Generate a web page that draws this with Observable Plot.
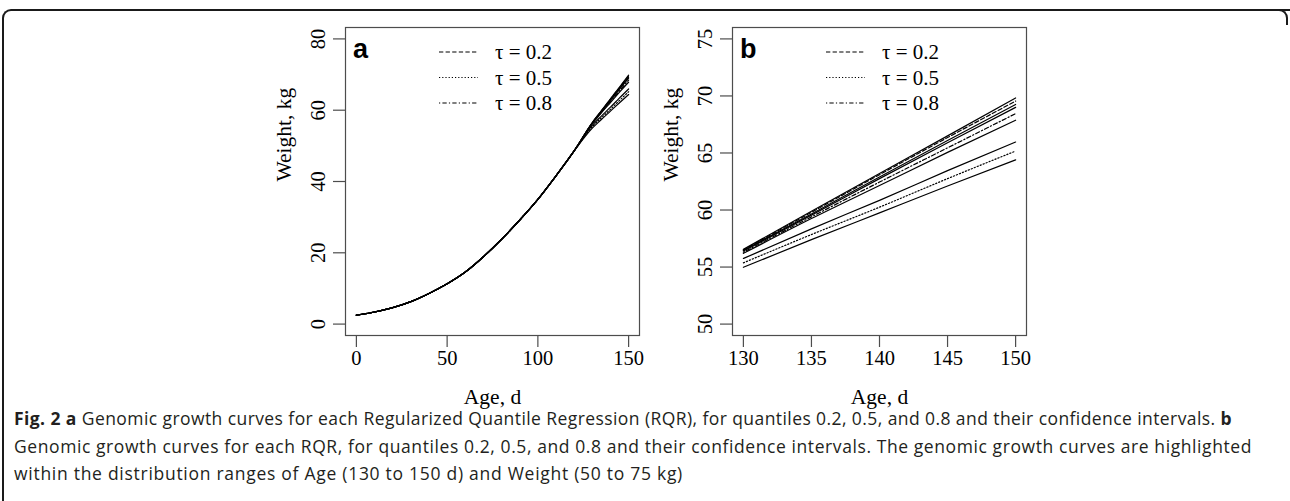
<!DOCTYPE html>
<html>
<head>
<meta charset="utf-8">
<script src="https://cdn.jsdelivr.net/npm/d3@7"></script>
<script src="https://cdn.jsdelivr.net/npm/@observablehq/plot@0.6"></script>
<style>
  html, body { margin: 0; padding: 0; background: #fff; }
  #wrap { position: relative; width: 1290px; height: 501px; overflow: hidden; background: #fff; }
  #borderL { position: absolute; left: 2px; top: 9px; width: 1400px; height: 600px;
             border-top: 2px solid #1a1a1a; border-left: 2px solid #1a1a1a; border-top-left-radius: 9px; }
  #borderR { position: absolute; left: 1200px; top: 9px; width: 86px; height: 14px;
             border-top: 2px solid #1a1a1a; border-right: 2px solid #1a1a1a; border-top-right-radius: 9px; }
  .chart { position: absolute; top: 0; }
  #cap { position: absolute; left: 14px; top: 405px; font-family: "Open Sans", sans-serif;
         font-size: 17.5px; line-height: 27.5px; color: #231f20; white-space: nowrap; }
  #cap b { font-weight: 700; }
  #cap span { display: inline-block; }
</style>
</head>
<body>
<div id="wrap">
  <div id="borderL"></div>
  <div id="borderR"></div>
  <div id="chartA" class="chart" style="left:250px"></div>
  <div id="chartB" class="chart" style="left:640px"></div>
  <div id="cap">
    <div><span data-w="1218"><b>Fig. 2 a</b> Genomic growth curves for each Regularized Quantile Regression (RQR), for quantiles 0.2, 0.5, and 0.8 and their confidence intervals. <b>b</b></span></div>
    <div><span data-w="1238">Genomic growth curves for each RQR, for quantiles 0.2, 0.5, and 0.8 and their confidence intervals. The genomic growth curves are highlighted</span></div>
    <div><span data-w="669">within the distribution ranges of Age (130 to 150 d) and Weight (50 to 75 kg)</span></div>
  </div>
</div>
<script>
// ---------------- data ----------------
const ageEarly = [0, 10, 20, 30, 40, 50, 60, 70, 80, 90, 100, 110, 120];
const weightEarly = [2.5, 3.4, 4.6, 6.3, 8.6, 11.3, 14.6, 18.9, 23.8, 29.2, 35.0, 41.6, 48.6];
const ageLate = [130, 135, 140, 145, 150];

// quantile 0.2 (estimate + confidence limits)
const q02Upper = [56.55, 59.9, 63.2, 66.5, 69.82];
const q02Est   = [56.5, 59.8, 63.1, 66.35, 69.55];
const q02Lower = [56.45, 59.65, 62.9, 66.1, 69.25];
// quantile 0.8
const q08Upper = [56.4, 59.55, 62.75, 65.9, 69.0];
const q08Est   = [56.3, 59.4, 62.45, 65.45, 68.45];
const q08Lower = [56.2, 59.25, 62.15, 65.05, 67.87];
// quantile 0.5
const q05Upper = [55.75, 58.35, 60.85, 63.45, 65.96];
const q05Est   = [55.37, 57.85, 60.25, 62.75, 65.17];
const q05Lower = [54.98, 57.4, 59.75, 62.1, 64.4];

const quantiles = ["0.2", "0.5", "0.8"];
const legendLabels = ["τ = 0.2", "τ = 0.5", "τ = 0.8"];

const xTicksA = [0, 50, 100, 150];
const yTicksA = [0, 20, 40, 60, 80];
const xTicksB = [130, 135, 140, 145, 150];
const yTicksB = [50, 55, 60, 65, 70, 75];

const xTitle = "Age, d";
const yTitle = "Weight, kg";
const panelLetters = ["a", "b"];

const curves = [
  {q: "0.2", role: "upper", late: q02Upper},
  {q: "0.2", role: "estimate", late: q02Est},
  {q: "0.2", role: "lower", late: q02Lower},
  {q: "0.8", role: "upper", late: q08Upper},
  {q: "0.8", role: "estimate", late: q08Est},
  {q: "0.8", role: "lower", late: q08Lower},
  {q: "0.5", role: "upper", late: q05Upper},
  {q: "0.5", role: "estimate", late: q05Est},
  {q: "0.5", role: "lower", late: q05Lower}
];

function rowsFor(includeEarly) {
  const rows = [];
  curves.forEach(c => {
    const id = c.q + "-" + c.role;
    if (includeEarly) ageEarly.forEach((a, i) => rows.push({id, q: c.q, role: c.role, age: a, weight: weightEarly[i]}));
    ageLate.forEach((a, i) => rows.push({id, q: c.q, role: c.role, age: a, weight: c.late[i]}));
  });
  return rows;
}
const rowsA = rowsFor(true);
const rowsB = rowsFor(false);

// ---------------- styling ----------------
const dash = {"0.2": "4.3,2.3", "0.5": "1.2,2.0", "0.8": "1.2,2.2,4.3,2.2"};
const styleOf = d => d.role === "estimate" ? d.q : "solid";
const boxColor = "#4d4d4d";
const serif = "'Liberation Serif', 'Times New Roman', serif";

function lineMarks(rows) {
  const kinds = ["solid", "0.2", "0.5", "0.8"];
  return kinds.map(k => Plot.line(rows.filter(d => styleOf(d) === k), {
    x: "age", y: "weight", z: "id", stroke: "#000", strokeWidth: 1.2,
    strokeDasharray: k === "solid" ? null : dash[k], curve: "monotone-x"
  }));
}

function makePanel({rows, xDomain, yDomain, xTicks, yTicks, marginLeft, marginRight, letter}) {
  const W = 420, H = 410, mt = 27, mb = 75;
  const chart = Plot.plot({
    width: W, height: H,
    marginLeft, marginRight, marginTop: mt, marginBottom: mb,
    x: {domain: xDomain}, y: {domain: yDomain},
    style: {fontFamily: serif, fontSize: "20.5px", color: "#000", background: "transparent", overflow: "visible"},
    marks: [
      ...lineMarks(rows),
      Plot.frame({stroke: boxColor, strokeWidth: 1.2}),
      Plot.axisX(xTicks, {tickSize: 12, tickPadding: 3, stroke: boxColor, strokeWidth: 1.2, fontSize: 20.5, label: null}),
      Plot.axisY(yTicks, {tickSize: 12, tickPadding: 9, tickRotate: -90, stroke: boxColor, strokeWidth: 1.2, fontSize: 20.5, label: null}),
      Plot.text([xTitle], {frameAnchor: "bottom", dy: 68, text: d => d, fontSize: 21.5}),
      Plot.text([yTitle], {frameAnchor: "left", dx: -61, rotate: -90, text: d => d, fontSize: 21.5})
    ]
  });
  // legend + panel letter (non-data decorations, relative to the frame)
  const svg = d3.select(chart);
  const g = svg.append("g").attr("transform", `translate(${marginLeft},${mt})`).attr("text-anchor", "start");
  g.append("text").text(letter).attr("x", 8).attr("y", 31)
    .attr("font-family", "'Liberation Sans', Arial, sans-serif").attr("font-weight", "bold")
    .attr("font-size", 27).attr("fill", "#000");
  quantiles.forEach((q, i) => {
    const y = 25 + i * 25.5;
    g.append("line").attr("x1", 94).attr("x2", 133).attr("y1", y).attr("y2", y)
      .attr("stroke", "#000").attr("stroke-width", 1.2).attr("stroke-dasharray", dash[q]);
    g.append("text").text(legendLabels[i]).attr("x", 150).attr("y", y).attr("dy", "0.35em")
      .attr("font-family", serif).attr("font-size", 21).attr("fill", "#000");
  });
  return chart;
}

document.getElementById("chartA").appendChild(makePanel({
  rows: rowsA, xDomain: [-6, 156], yDomain: [-3.2, 83.2], xTicks: xTicksA, yTicks: yTicksA,
  marginLeft: 95, marginRight: 31, letter: panelLetters[0]
}));
document.getElementById("chartB").appendChild(makePanel({
  rows: rowsB, xDomain: [129.2, 150.8], yDomain: [49, 76], xTicks: xTicksB, yTicks: yTicksB,
  marginLeft: 92, marginRight: 34, letter: panelLetters[1]
}));

// fit caption lines to the widths seen in the reference
document.querySelectorAll("#cap span[data-w]").forEach(s => {
  const target = +s.dataset.w;
  const w = s.getBoundingClientRect().width;
  const n = s.textContent.length;
  s.style.letterSpacing = ((target - w) / n).toFixed(3) + "px";
});
</script>
</body>
</html>
